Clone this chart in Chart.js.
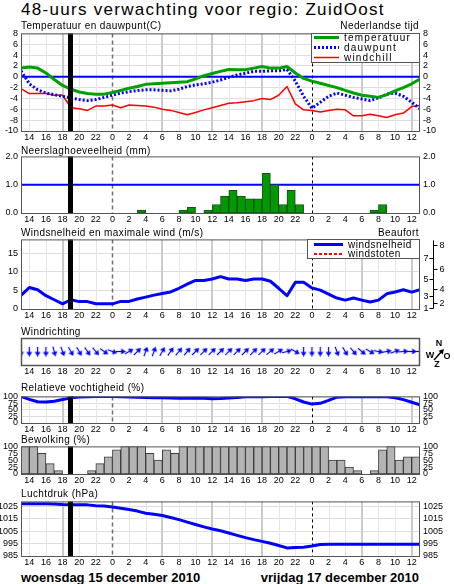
<!DOCTYPE html>
<html>
<head>
<meta charset="utf-8">
<title>48-uurs verwachting ZuidOost</title>
<script src="https://cdn.jsdelivr.net/npm/chart.js@4.4.1/dist/chart.umd.min.js"></script>
<style>
  html, body { margin: 0; padding: 0; background: #fff; }
  #page { position: relative; width: 454px; height: 584px; overflow: hidden; background: #fff;
          font-family: 'Liberation Sans', Arial, Helvetica, sans-serif; color: #000; }
  #page canvas { position: absolute; left: 0; }
  .txt { position: absolute; white-space: nowrap; line-height: 1; z-index: 2; }
  .title { left: 21px; top: 1px; font-size: 17px; letter-spacing: 1.3px; }
  .lbl { font-size: 10px; letter-spacing: 0.4px; }
  .left { left: 21px; }
  .right { right: 35px; }
  .date { font-size: 13px; font-weight: bold; top: 571px; }
</style>
</head>
<body>
<div id="page">
  <div class="txt title">48-uurs verwachting voor regio: ZuidOost</div>
  <div class="txt lbl left" style="top:21px">Temperatuur en dauwpunt(C)</div>
  <div class="txt lbl right" style="top:21px">Nederlandse tijd</div>
  <div class="txt lbl left" style="top:146px">Neerslaghoeveelheid (mm)</div>
  <div class="txt lbl left" style="top:228px">Windsnelheid en maximale wind (m/s)</div>
  <div class="txt lbl right" style="top:228px">Beaufort</div>
  <div class="txt lbl left" style="top:327px">Windrichting</div>
  <div class="txt lbl left" style="top:383px">Relatieve vochtigheid (%)</div>
  <div class="txt lbl left" style="top:435px">Bewolking (%)</div>
  <div class="txt lbl left" style="top:489px">Luchtdruk (hPa)</div>
  <div class="txt date left">woensdag 15 december 2010</div>
  <div class="txt date right">vrijdag 17 december 2010</div>
</div>
<script>
'use strict';

// tijdas: uren gerekend vanaf woensdag 0:00 (13 = wo 13u, 61 = vr 13u)
let hours = [13, 14, 15, 16, 17, 18, 19, 20, 21, 22, 23, 24, 25, 26, 27, 28, 29, 30, 31, 32, 33, 34, 35, 36, 37,
             38, 39, 40, 41, 42, 43, 44, 45, 46, 47, 48, 49, 50, 51, 52, 53, 54, 55, 56, 57, 58, 59, 60, 61];
// begin van elk uurvak voor de staven
let barHours = [13, 14, 15, 16, 17, 18, 19, 20, 21, 22, 23, 24, 25, 26, 27, 28, 29, 30, 31, 32, 33, 34, 35, 36,
                37, 38, 39, 40, 41, 42, 43, 44, 45, 46, 47, 48, 49, 50, 51, 52, 53, 54, 55, 56, 57, 58, 59, 60];
let xTicks = [14, 16, 18, 20, 22, 24, 26, 28, 30, 32, 34, 36, 38, 40, 42, 44, 46, 48, 50, 52, 54, 56, 58, 60];
let xTickLabels = ['14', '16', '18', '20', '22', '0', '2', '4', '6', '8', '10', '12',
                   '14', '16', '18', '20', '22', '0', '2', '4', '6', '8', '10', '12'];
let dayStarts = [24, 48];
let nowHour = 19;

let temperatuur = [1.6, 1.8, 1.6, 0.7, -0.5, -1.6, -2.3, -2.8, -3.1, -3.2, -3.2, -2.9, -2.5, -2.1, -1.8, -1.4,
                   -1.3, -1.2, -1.1, -1.0, -0.9, -0.4, 0.2, 0.6, 1.0, 1.35, 1.3, 1.3, 1.6, 1.9, 1.6, 1.6, 1.9,
                   0.7, -0.3, -0.8, -1.2, -1.6, -2.0, -2.5, -3.0, -3.4, -3.6, -3.8, -3.3, -2.6, -2.0, -1.3, -0.4];
let dauwpunt = [1.1, -1.3, -2.4, -3.0, -3.3, -3.6, -3.9, -4.2, -4.4, -4.2, -3.8, -3.4, -3.0, -2.75, -2.55, -2.4,
                -2.4, -2.5, -2.6, -2.3, -1.8, -1.5, -1.3, -1.0, -0.6, -0.1, 0.35, 0.65, 1.0, 1.0, 1.1, 1.1, 1.35,
                -0.8, -3.6, -5.8, -4.7, -3.6, -3.0, -3.4, -3.8, -4.1, -4.4, -3.9, -3.2, -3.0, -3.6, -4.7, -5.9];
let windchill = [-2.2, -3.1, -3.1, -3.1, -3.4, -3.4, -5.7, -5.9, -6.2, -5.4, -5.4, -5.2, -5.7, -5.2, -5.3, -5.4,
                 -5.6, -6.0, -6.2, -6.6, -7.0, -6.6, -6.1, -5.7, -5.3, -4.9, -4.8, -4.6, -4.4, -4.0, -4.2, -3.4,
                 -1.8, -5.0, -6.1, -6.2, -6.5, -6.2, -6.0, -6.1, -7.2, -7.2, -6.9, -7.2, -7.5, -7.0, -6.7, -5.5, -5.3];
let neerslag = [null, null, null, null, null, null, null, null, null, null, null, null, null, null, 0.1, null,
                null, null, null, 0.1, 0.2, null, 0.1, 0.3, 0.6, 0.8, 0.6, 0.5, 0.5, 1.4, 1.0, 0.3, 0.8, 0.3,
                null, null, null, null, null, null, null, null, 0.1, 0.3, null, null, null, null];
let windsnelheid = [3.7, 5.8, 5.2, 3.6, 2.5, 1.4, 2.5, 2.0, 2.0, 1.4, 1.4, 1.4, 2.05, 2.05, 2.7, 3.2, 3.75, 4.2,
                    4.6, 5.6, 6.7, 7.7, 7.7, 8.1, 8.75, 8.1, 8.1, 7.7, 8.1, 8.1, 7.5, 5.6, 3.6, 7.2, 7.2, 5.7,
                    5.1, 4.0, 2.95, 2.4, 2.95, 2.4, 1.9, 2.4, 4.1, 4.6, 5.2, 4.55, 5.2];
// windrichting in graden (waar de wind vandaan komt)
let windrichting = [0, 0, 0, 0, 345, 340, 330, 330, 325, 320, 305, 290, 270, 240, 225, 200, 200, 210, 215, 220,
                    220, 225, 225, 225, 225, 225, 225, 225, 225, 225, 230, 240, 255, 300, 0, 0, 0, 0, 340, 330,
                    320, 310, 300, 280, 260, 250, 265, 270, 270];
let vochtigheid = [100, 89, 80, 79, 82, 88, 95, 98, 99, 100, 100, 100, 99, 98, 97, 96, 95, 95, 94, 93, 93, 94, 93,
                   91, 92, 94, 96, 99, 99, 99, 100, 100, 100, 91, 79, 71, 74, 85, 97, 99, 99, 99, 99, 99, 99, 95,
                   88, 78, 68];
let bewolking = [100, 100, 75, 37.5, 12.5, 0, 0, 0, 12.5, 37.5, 62.5, 87.5, 100, 100, 100, 75, 50, 87.5, 75,
                 100, 100, 100, 100, 100, 100, 100, 100, 100, 100, 100, 100, 100, 100, 100, 100, 100, 100,
                 50, 50, 25, 12.5, 0, 12.5, 87.5, 100, 50, 62.5, 62.5];
let luchtdruk = [1027.1, 1027.1, 1027.1, 1027.1, 1027.0, 1026.5, 1026.3, 1026.3, 1026.2, 1025.5, 1025.2, 1024.5,
                 1023.4, 1022.4, 1021.2, 1019.5, 1018.6, 1017.6, 1016.0, 1014.3, 1012.3, 1010.4, 1008.5, 1006.7,
                 1005.3, 1003.5, 1001.6, 999.8, 998.2, 996.8, 995.3, 993.5, 991.5, 991.8, 992.0, 993.0, 994.3,
                 994.4, 994.4, 994.4, 994.4, 994.4, 994.4, 994.4, 994.4, 994.4, 994.4, 994.4, 994.4];

let tempTicks = [-10, -8, -6, -4, -2, 0, 2, 4, 6, 8];
let neerslagTicks = [0, 1, 2];
let windTicks = [0, 5, 10, 15];
let procentTicks = [0, 25, 50, 75, 100];
let drukTicks = [985, 995, 1005, 1015, 1025];
// ondergrens van elke Beaufortklasse in m/s
let beaufortTicks = [0.3, 1.6, 3.4, 5.5, 8.0, 10.8, 13.9, 17.2];
let beaufortLabels = ['1', '2', '3', '4', '5', '6', '7', '8'];


const W = 454, LEFT_W = 21, RIGHT_W = 34, PAD_T = 8, X_H = 14;
const FONT = "'Liberation Sans', Arial, Helvetica, sans-serif";
const tickFont = { family: FONT, size: 9 };
const page = document.getElementById('page');

function points(xs, ys) {
    return xs.map(function (x, i) { return { x: x, y: ys[i] }; });
}

function barPoints(ys) {
    // een staaf per uur, midden in het uurvak
    return barHours.map(function (h, i) { return { x: h + 0.5, y: ys[i] }; });
}

function xAxis() {
    return {
        type: 'linear', min: 13, max: 61, offset: false,
        afterBuildTicks: function (s) { s.ticks = xTicks.map(function (v) { return { value: v }; }); },
        afterFit: function (s) { s.height = X_H; },
        ticks: {
            font: tickFont, color: '#000', padding: 1, maxRotation: 0, autoSkip: false,
            callback: function (v, i) { return xTickLabels[i]; }
        },
        grid: { display: false, drawTicks: false },
        border: { display: false }
    };
}

function yAxis(pos, min, max, ticks, opt) {
    opt = opt || {};
    return {
        type: 'linear', position: pos, min: min, max: max,
        afterBuildTicks: function (s) { s.ticks = ticks.map(function (v) { return { value: v }; }); },
        afterFit: function (s) { s.width = pos === 'left' ? LEFT_W : RIGHT_W; },
        ticks: {
            display: opt.labels !== false, autoSkip: false, padding: 3, font: tickFont, color: '#000',
            callback: opt.fmt || function (v) { return String(v); }
        },
        grid: { display: pos === 'left' && !!opt.grid, color: '#dedede', lineWidth: 1, drawTicks: false },
        border: { display: false }
    };
}

// verticale hulplijnen, nu-lijn en kader
function timeGrid(cfg) {
    return {
        id: 'timeGrid',
        beforeDatasetsDraw: function (chart) {
            const ctx = chart.ctx, a = chart.chartArea, x = chart.scales.x;
            ctx.save();
            ctx.beginPath();
            ctx.rect(a.left, a.top, a.right - a.left, a.bottom - a.top);
            ctx.clip();
            if (cfg.fine) {
                xTicks.forEach(function (h) {
                    const hod = h % 24;
                    if (hod === 0) return;
                    const major = hod % 6 === 0;
                    const px = Math.round(x.getPixelForValue(h)) + (major ? 0 : 0.5);
                    ctx.strokeStyle = major ? '#cbcbcb' : '#e6e6e6';
                    ctx.lineWidth = major ? 2 : 1;
                    ctx.beginPath();
                    ctx.moveTo(px, a.top);
                    ctx.lineTo(px, a.bottom);
                    ctx.stroke();
                });
            }
            if (cfg.dashed) {
                dayStarts.forEach(function (h, i) {
                    const px = Math.round(x.getPixelForValue(h)) + 0.5;
                    ctx.strokeStyle = i === 0 ? '#6e6e6e' : '#000';
                    ctx.lineWidth = i === 0 ? 1.5 : 1;
                    ctx.setLineDash(i === 0 ? [4, 3] : [3, 3]);
                    ctx.beginPath();
                    ctx.moveTo(px, a.top);
                    ctx.lineTo(px, a.bottom);
                    ctx.stroke();
                });
                ctx.setLineDash([]);
            }
            ctx.restore();
        },
        afterDatasetsDraw: function (chart) {
            const ctx = chart.ctx, a = chart.chartArea, x = chart.scales.x;
            ctx.save();
            if (cfg.now) {
                const px = x.getPixelForValue(nowHour);
                ctx.fillStyle = '#000';
                ctx.fillRect(Math.round(px - 2.5), a.top, 5, a.bottom - a.top);
            }
            ctx.strokeStyle = '#555';
            ctx.lineWidth = cfg.frame || 1;
            ctx.strokeRect(a.left + 0.5, a.top + 0.5, a.right - a.left - 1, a.bottom - a.top);
            ctx.restore();
        }
    };
}

function refLine(value) {
    return {
        id: 'refLine',
        beforeDatasetsDraw: function (chart) {
            const ctx = chart.ctx, a = chart.chartArea;
            const py = chart.scales.y.getPixelForValue(value);
            ctx.save();
            ctx.strokeStyle = '#0000ff';
            ctx.lineWidth = 2;
            ctx.beginPath();
            ctx.moveTo(a.left, py);
            ctx.lineTo(a.right, py);
            ctx.stroke();
            ctx.restore();
        }
    };
}

// legenda in een wit kader rechtsboven in het plotvlak
function boxLegend(cfg) {
    return {
        id: 'boxLegend',
        afterDraw: function (chart) {
            const ctx = chart.ctx, a = chart.chartArea;
            const left = Math.round(a.right - cfg.width), top = Math.round(a.top);
            ctx.save();
            ctx.fillStyle = '#fff';
            ctx.fillRect(left, top, cfg.width, cfg.height);
            ctx.strokeStyle = '#555';
            ctx.lineWidth = 1;
            ctx.strokeRect(left + 0.5, top + 0.5, cfg.width - 1, cfg.height);
            chart.data.datasets.forEach(function (ds, i) {
                const yy = top + cfg.rowTop + i * cfg.rowH;
                ctx.beginPath();
                ctx.setLineDash(ds.borderDash || []);
                ctx.strokeStyle = ds.borderColor;
                ctx.lineWidth = ds.borderWidth;
                ctx.moveTo(left + cfg.s0, yy);
                ctx.lineTo(left + cfg.s1, yy);
                ctx.stroke();
                ctx.setLineDash([]);
                ctx.fillStyle = '#000';
                ctx.font = '10px ' + FONT;
                ctx.letterSpacing = cfg.spacing;
                ctx.textAlign = 'left';
                ctx.textBaseline = 'middle';
                ctx.fillText(ds.label, left + cfg.tx, yy + 0.5);
            });
            ctx.restore();
        }
    };
}

// rechteras in Beaufort naast de windgrafiek
function beaufortAxis() {
    return {
        id: 'beaufortAxis',
        afterDraw: function (chart) {
            const ctx = chart.ctx, a = chart.chartArea, y = chart.scales.y;
            const ax = Math.round(a.right + 13) + 0.5;
            ctx.save();
            ctx.strokeStyle = '#000';
            ctx.lineWidth = 1;
            ctx.beginPath();
            ctx.moveTo(ax, a.top + 1);
            ctx.lineTo(ax, Math.round(y.getPixelForValue(beaufortTicks[0])) + 0.5);
            ctx.stroke();
            ctx.font = '9px ' + FONT;
            ctx.fillStyle = '#000';
            ctx.textBaseline = 'middle';
            beaufortTicks.forEach(function (v, i) {
                const py = Math.round(y.getPixelForValue(v)) + 0.5;
                const even = i % 2 === 1;
                ctx.beginPath();
                if (even) { ctx.moveTo(ax, py); ctx.lineTo(ax + 4, py); }
                else { ctx.moveTo(ax - 4, py); ctx.lineTo(ax, py); }
                ctx.stroke();
                ctx.textAlign = even ? 'left' : 'right';
                ctx.fillText(beaufortLabels[i], even ? ax + 6 : ax - 5, py);
            });
            ctx.restore();
        }
    };
}

function arrowHead(ctx, x0, y0, x1, y1, len, half) {
    const d = Math.hypot(x1 - x0, y1 - y0), ux = (x1 - x0) / d, uy = (y1 - y0) / d;
    const bx = x1 - ux * len, by = y1 - uy * len;
    ctx.beginPath();
    ctx.moveTo(x1, y1);
    ctx.lineTo(bx - uy * half, by + ux * half);
    ctx.lineTo(bx + uy * half, by - ux * half);
    ctx.closePath();
    ctx.fill();
}

// windroos rechts van de windrichtingbalk
function compass() {
    return {
        id: 'compass',
        afterDraw: function (chart) {
            const ctx = chart.ctx, a = chart.chartArea;
            const cx = a.right + 18, cy = (a.top + a.bottom) / 2;
            ctx.save();
            ctx.fillStyle = '#000';
            ctx.font = 'bold 9px ' + FONT;
            ctx.textAlign = 'center';
            ctx.textBaseline = 'middle';
            ctx.fillText('N', cx + 1, cy - 8);
            ctx.fillText('W', cx - 8, cy + 4.5);
            ctx.fillText('O', cx + 9, cy + 5);
            ctx.fillText('Z', cx - 1, cy + 13);
            ctx.strokeStyle = '#000';
            ctx.lineWidth = 1.5;
            ctx.beginPath();
            ctx.moveTo(cx - 4, cy + 8.5);
            ctx.lineTo(cx + 4, cy - 0.5);
            ctx.stroke();
            arrowHead(ctx, cx - 4, cy + 8.5, cx + 6, cy - 2.5, 5, 2.8);
            ctx.restore();
        }
    };
}

function makeArrow(color) {
    const c = document.createElement('canvas');
    c.width = 7;
    c.height = 10;
    const g = c.getContext('2d');
    g.strokeStyle = color;
    g.fillStyle = color;
    g.lineWidth = 1.2;
    g.beginPath();
    g.moveTo(3.5, 10);
    g.lineTo(3.5, 3);
    g.stroke();
    g.beginPath();
    g.moveTo(3.5, 0);
    g.lineTo(6.5, 4.5);
    g.lineTo(0.5, 4.5);
    g.closePath();
    g.fill();
    return c;
}

function makeChart(plotTop, plotBottom, config) {
    const c = document.createElement('canvas');
    const h = plotBottom - plotTop + PAD_T + X_H;
    c.width = W;
    c.height = h;
    c.style.top = (plotTop - PAD_T) + 'px';
    c.style.width = W + 'px';
    c.style.height = h + 'px';
    page.appendChild(c);
    const o = config.options;
    o.responsive = false;
    o.animation = false;
    o.events = [];
    o.layout = { padding: { top: PAD_T, left: 0, right: 0, bottom: 0 } };
    o.plugins = { legend: { display: false }, tooltip: { enabled: false } };
    o.elements = { point: { radius: 0 }, line: { tension: 0, borderCapStyle: 'butt', borderJoinStyle: 'round' } };
    return new Chart(c, config);
}

// temperatuur en dauwpunt
makeChart(33, 131, {
    type: 'line',
    data: {
        datasets: [
            { label: 'temperatuur', data: points(hours, temperatuur), borderColor: '#00a000', borderWidth: 3 },
            { label: 'dauwpunt', data: points(hours, dauwpunt), borderColor: '#0000ff', borderWidth: 3, borderDash: [2, 2] },
            { label: 'windchill', data: points(hours, windchill), borderColor: '#ff0000', borderWidth: 1.5 }
        ]
    },
    options: {
        scales: {
            x: xAxis(),
            y: yAxis('left', -10, 8, tempTicks, { grid: true }),
            y2: yAxis('right', -10, 8, tempTicks)
        }
    },
    plugins: [timeGrid({ fine: true, dashed: true, now: true }), refLine(0),
              boxLegend({ width: 109, height: 29, rowTop: 4.5, rowH: 10, s0: 3, s1: 28, tx: 33, spacing: '1.2px' })]
});

// neerslag
makeChart(156, 213, {
    type: 'bar',
    data: {
        datasets: [{
            label: 'neerslag', data: barPoints(neerslag), backgroundColor: '#009900', borderColor: '#1e4a1e',
            borderWidth: 1, borderSkipped: false, barPercentage: 1, categoryPercentage: 1
        }]
    },
    options: {
        scales: {
            x: xAxis(),
            y: yAxis('left', 0, 2, neerslagTicks, { fmt: function (v) { return v.toFixed(1); } }),
            y2: yAxis('right', 0, 2, neerslagTicks, { fmt: function (v) { return v.toFixed(1); } })
        }
    },
    plugins: [timeGrid({ fine: false, dashed: true, now: true }), refLine(1)]
});

// windsnelheid
makeChart(239, 309, {
    type: 'line',
    data: {
        datasets: [
            { label: 'windsnelheid', data: points(hours, windsnelheid), borderColor: '#0000ff', borderWidth: 3 },
            { label: 'windstoten', data: [], borderColor: '#ff0000', borderWidth: 2, borderDash: [3, 2] }
        ]
    },
    options: {
        scales: {
            x: xAxis(),
            y: yAxis('left', 0, 18.8, windTicks, { grid: true }),
            y2: yAxis('right', 0, 18.8, [], { labels: false })
        }
    },
    plugins: [timeGrid({ fine: true, dashed: true, now: true }), beaufortAxis(),
              boxLegend({ width: 113, height: 19, rowTop: 5.5, rowH: 9.5, s0: 7, s1: 36, tx: 41, spacing: '0.5px' })]
});

// windrichting
makeChart(338, 365, {
    type: 'scatter',
    data: {
        datasets: [{
            label: 'windrichting',
            data: hours.map(function (h) { return { x: h, y: 0 }; }),
            pointStyle: makeArrow('#0000ff'),
            pointRotation: windrichting.map(function (d) { return (d + 180) % 360; }),
            pointRadius: 4
        }]
    },
    options: {
        scales: {
            x: xAxis(),
            y: yAxis('left', -1, 1, [], { labels: false }),
            y2: yAxis('right', -1, 1, [], { labels: false })
        }
    },
    plugins: [timeGrid({ fine: false, dashed: false, now: false, frame: 1.5 }), compass()]
});

// relatieve vochtigheid
makeChart(396, 423, {
    type: 'line',
    data: {
        datasets: [{ label: 'vochtigheid', data: points(hours, vochtigheid), borderColor: '#0000ff', borderWidth: 3 }]
    },
    options: {
        scales: {
            x: xAxis(),
            y: yAxis('left', 0, 100, procentTicks, { grid: true }),
            y2: yAxis('right', 0, 100, procentTicks)
        }
    },
    plugins: [timeGrid({ fine: true, dashed: true, now: true })]
});

// bewolking
makeChart(446, 474, {
    type: 'bar',
    data: {
        datasets: [{
            label: 'bewolking', data: barPoints(bewolking), backgroundColor: '#b4b4b4', borderColor: '#3c3c3c',
            borderWidth: 1, borderSkipped: false, barPercentage: 1, categoryPercentage: 1
        }]
    },
    options: {
        scales: {
            x: xAxis(),
            y: yAxis('left', 0, 100, procentTicks),
            y2: yAxis('right', 0, 100, procentTicks)
        }
    },
    plugins: [timeGrid({ fine: false, dashed: false, now: true })]
});

// luchtdruk
makeChart(501, 556, {
    type: 'line',
    data: {
        datasets: [{ label: 'luchtdruk', data: points(hours, luchtdruk), borderColor: '#0000ff', borderWidth: 3 }]
    },
    options: {
        scales: {
            x: xAxis(),
            y: yAxis('left', 985, 1029, drukTicks, { grid: true }),
            y2: yAxis('right', 985, 1029, drukTicks)
        }
    },
    plugins: [timeGrid({ fine: true, dashed: true, now: true })]
});
</script>
</body>
</html>
